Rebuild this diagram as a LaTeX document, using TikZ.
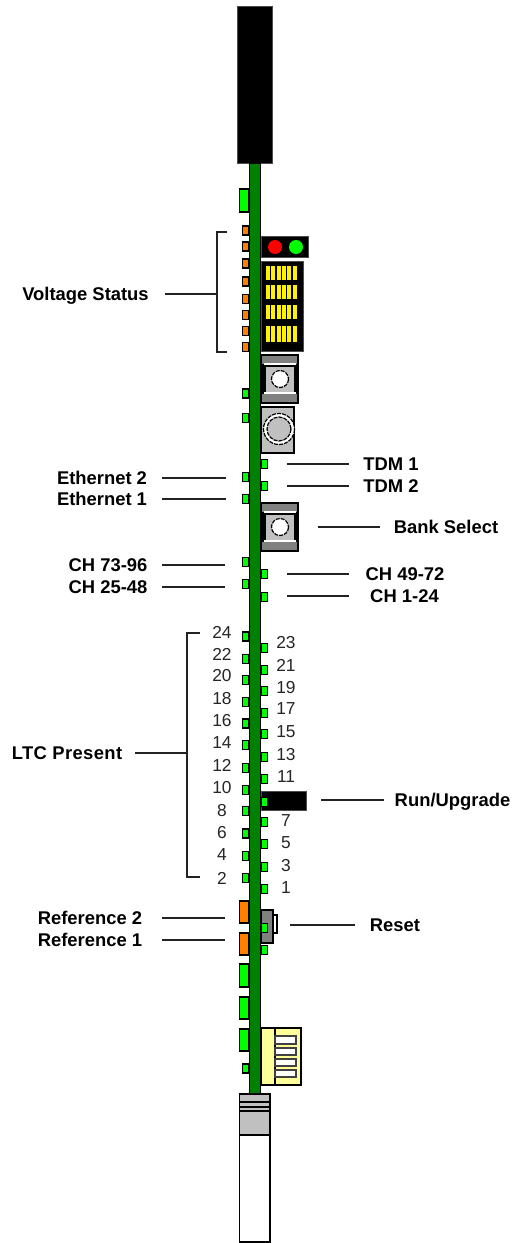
\documentclass[tikz,border=0pt]{standalone}
\usepackage{fontspec}
\setmainfont{Liberation Sans}
\definecolor{pcb}{HTML}{008000}
\definecolor{led}{HTML}{00FF00}
\definecolor{amber}{HTML}{FF8000}
\definecolor{panelgray}{HTML}{C0C0C0}
\definecolor{bandgray}{HTML}{808080}
\definecolor{paleyellow}{HTML}{FFFF99}
\definecolor{linegray}{HTML}{222222}
\tikzset{
  x=0.75pt,y=-0.75pt,
  part/.style={draw=black,line width=0.8pt},
  blackpart/.style={fill=black,draw=black!70,line width=0.3pt},
  ledg/.style={part,fill=led},
  lamber/.style={part,fill=amber},
  lab/.style={font=\fontsize{13.8pt}{14pt}\selectfont\bfseries,inner sep=0pt,text=black,text height=12pt,text depth=2pt},
  numlab/.style={font=\fontsize{13pt}{14pt}\selectfont,inner sep=0pt,text=black!85},
  leader/.style={draw=linegray,line width=1.1pt},
  dashring/.style={draw=black,line width=0.9pt,dash pattern=on 3pt off 0.8pt},
}
\newcommand{\ledL}[1]{\draw[ledg] (242.5,#1-4.5) rectangle (249,#1+4.5);}
\newcommand{\ledR}[1]{\draw[ledg] (261,#1-4.5) rectangle (267.5,#1+4.5);}
\newcommand{\callout}[6]{%
  \node[lab] (#1) at (#3,#4) {#2};
  \coordinate (#1-a) at (#5,#4);
  \coordinate (#1-b) at (#6,#4);
  \draw[leader] (#1-a) -- (#1-b);
}
\newcommand{\switchbox}[1]{%
  \draw[part,fill=bandgray] (261,#1-24) rectangle (298,#1+24);
  \fill[black] (262,#1-15) rectangle (297,#1+15);
  \draw[black,fill=panelgray,line width=0.7pt] (265,#1-13) rectangle (294,#1+13);
  \fill[white] (264,#1-16) rectangle (296,#1-14);
  \fill[white] (264,#1+13) rectangle (296,#1+15);
  \draw[dashring,fill=white] (280,#1) circle (8.5);
}
\begin{document}
\begin{tikzpicture}
\useasboundingbox (0,0) rectangle (511,1243);
\fill[white] (0,0) rectangle (511,1243);
\draw[blackpart] (237,6) rectangle (272,163);
\draw[part,fill=white] (239.5,1094) rectangle (270,1242);
\draw[part,fill=panelgray] (239.5,1094) rectangle (270,1135);
\draw[part] (239.5,1102) -- (270,1102);
\draw[part] (239.5,1107) -- (270,1107);
\draw[part] (239.5,1111) -- (270,1111);
\draw[black,line width=1.6pt] (239.5,1135) -- (270,1135);
\foreach \a/\b in {189/212,964/987,997/1019,1029/1051} \draw[ledg] (239.5,\a) rectangle (249,\b);
\foreach \a/\b in {901/923,933/955} \draw[lamber] (239.5,\a) rectangle (249,\b);
\foreach \c in {230.5,246.5,263.5,281.5,299,315,331,347} \draw[lamber] (242.5,\c-4.5) rectangle (249,\c+4.5);
\foreach \c in {393.5,418,477,499,562,584,636.5,659,680,702,723.5,745,768,790,811,833.5,856,878,1068.5} {\ledL{\c}}
\draw[blackpart] (261,236) rectangle (308,257);
\fill[red] (275,247) circle (7);
\fill[led] (296,247) circle (7);
\draw[blackpart] (261,261) rectangle (303,351);
\foreach \a/\b in {266/280,285/299,305/319,326/342}
  \foreach \i in {0,...,5} \fill[yellow] (266+\i*5.35,\a) rectangle (269.8+\i*5.35,\b);
\switchbox{379}
\switchbox{527}
\draw[part,fill=panelgray] (261,407) rectangle (294,453);
\draw[dashring,fill=white] (279,429) circle (15.5);
\draw[dashring,fill=panelgray] (279,429) circle (12);
\draw[blackpart] (261,791) rectangle (306,810);
\draw[part,fill=white] (272,915) rectangle (277,933);
\draw[part,fill=bandgray] (261,910) rectangle (273,943);
\draw[part,fill=paleyellow] (261,1028) rectangle (301,1085);
\draw[part] (275,1028) -- (275,1085);
\foreach \a/\b in {1036/1044,1048/1055,1059/1066,1070/1077}
  \draw[draw=black!75,line width=0.8pt,fill=white] (275,\a) rectangle (296,\b);
\foreach \c in {464,486,574,597,648,670,691,713,734,757,779,802,822,844,867,889,928,950} {\ledR{\c}}
\draw[part,fill=pcb] (249.5,163) rectangle (260.5,1094);
\foreach \n/\y in {24/632,22/654,20/676,18/699,16/721,14/743,12/765,10/788,8/811,6/833,4/855,2/878}
  \node[numlab] (l\n) at (222,\y) {\n};
\foreach \n/\y in {23/643,21/665,19/688,17/709,15/732,13/755,11/777,7/821,5/843,3/866,1/888}
  \node[numlab] (r\n) at (286,\y) {\n};
\callout{volt}{Voltage Status}{85.5}{294}{165}{217}
\coordinate (volt-t) at (227,232);
\coordinate (volt-tc) at (217,232);
\coordinate (volt-bc) at (217,352);
\coordinate (volt-bb) at (227,352);
\draw[leader] (volt-t) -- (volt-tc) -- (volt-bc) -- (volt-bb);
\callout{ltc}{\addfontfeature{LetterSpace=2}LTC Present}{67}{753}{135}{187}
\coordinate (ltc-t) at (200,633);
\coordinate (ltc-tc) at (187,633);
\coordinate (ltc-bc) at (187,877);
\coordinate (ltc-bb) at (200,877);
\draw[leader] (ltc-t) -- (ltc-tc) -- (ltc-bc) -- (ltc-bb);
\callout{tdma}{TDM 1}{391}{464}{287}{349}
\callout{tdmb}{TDM 2}{391}{486}{287}{349}
\callout{bank}{Bank Select}{446}{527}{318}{380}
\callout{cha}{CH 49-72}{405}{574}{287}{349}
\callout{chb}{CH 1-24}{404.5}{596}{287}{349}
\callout{run}{Run/Upgrade}{452.5}{800}{321}{384}
\callout{rst}{Reset}{395}{925}{290}{355}
\callout{etha}{Ethernet 2}{102}{478}{162}{226}
\callout{ethb}{Ethernet 1}{102}{499}{162}{226}
\callout{chc}{CH 73-96}{108}{565}{162}{225}
\callout{chd}{CH 25-48}{108}{587}{162}{225}
\callout{refa}{Reference 2}{90}{918}{162}{225}
\callout{refb}{Reference 1}{90}{940}{162}{225}
\end{tikzpicture}
\end{document}
